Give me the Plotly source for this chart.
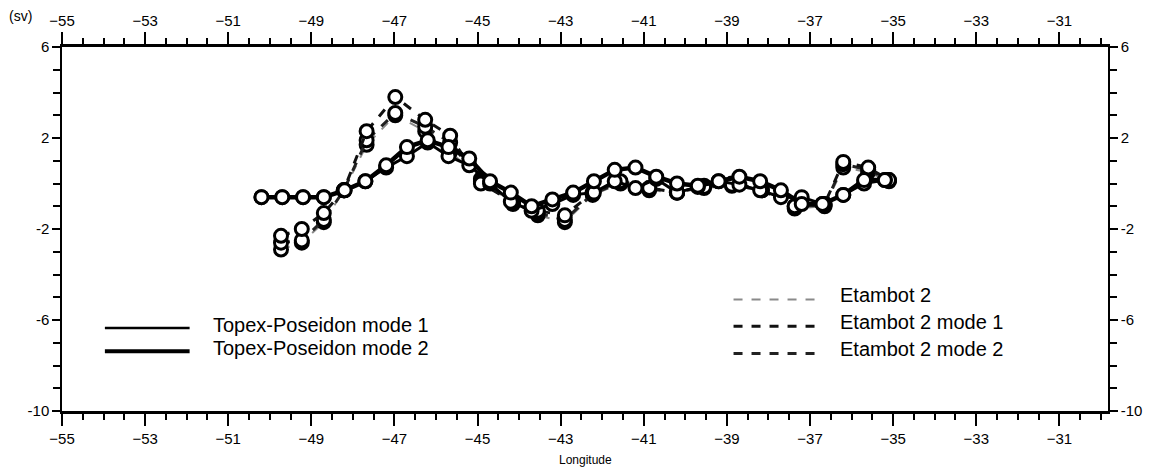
import plotly.graph_objects as go

# ---------------- data ----------------
topex_lon = [-50.2, -49.7, -49.2, -48.7, -48.2, -47.7, -47.2, -46.7, -46.2, -45.7,
             -45.2, -44.7, -44.2, -43.7, -43.2, -42.7, -42.2, -41.7, -41.2, -40.7,
             -40.2, -39.7, -39.2, -38.7, -38.2, -37.7, -37.2, -36.7, -36.2, -35.7, -35.2]
topex_mode1 = [-0.6, -0.6, -0.6, -0.6, -0.3, 0.1, 0.7, 1.2, 1.8, 1.2,
               0.8, 0.0, -0.8, -1.2, -0.9, -0.5, -0.4, 0.1, -0.2, 0.2,
               -0.4, -0.15, 0.1, -0.05, -0.3, -0.6, -0.6, -0.9, -0.5, 0.0, 0.15]
topex_mode2 = [-0.6, -0.6, -0.6, -0.6, -0.3, 0.1, 0.8, 1.6, 1.9, 1.6,
               1.1, 0.1, -0.4, -1.0, -0.7, -0.4, 0.1, 0.6, 0.7, 0.3,
               0.0, -0.1, 0.1, 0.3, 0.1, -0.3, -0.9, -0.9, -0.5, 0.15, 0.15]

etam_lon = [-49.73, -49.23, -48.70, -48.22, -47.67, -46.98, -46.26, -45.66, -44.92, -44.15,
            -43.55, -42.90, -42.23, -41.56, -40.87, -40.20, -39.55, -38.88, -38.16, -37.37,
            -36.65, -36.20, -35.60, -35.10]
etambot2 = [-2.9, -2.6, -1.7, -0.3, 1.7, 3.0, 2.3, 1.4, 0.2, -0.9,
            -1.4, -1.7, -0.5, 0.0, -0.3, -0.4, -0.2, -0.1, -0.3, -1.1,
            -1.0, 0.7, 0.5, 0.1]
etambot2_mode1 = [-2.3, -2.0, -1.3, -0.3, 2.3, 3.8, 2.8, 2.1, 0.0, -0.8,
                  -1.2, -1.4, -0.4, 0.1, -0.2, -0.4, -0.15, -0.05, -0.3, -1.0,
                  -0.9, 0.95, 0.7, 0.15]
etambot2_mode2 = [-2.6, -2.5, -1.6, -0.3, 1.9, 3.1, 2.5, 1.8, 0.1, -0.85,
                  -1.3, -1.6, -0.45, 0.05, -0.2, -0.4, -0.1, 0.0, -0.25, -1.0,
                  -0.95, 0.85, 0.6, 0.15]

x_ticks = [-55, -53, -51, -49, -47, -45, -43, -41, -39, -37, -35, -33, -31]
y_ticks = [6, 2, -2, -6, -10]
y_minor = [-9, -8, -7, -5, -4, -3, -1, 0, 1, 3, 4, 5]

# legend entries
legend_left = ["Topex-Poseidon mode 1", "Topex-Poseidon mode 2"]
legend_right = ["Etambot 2", "Etambot 2 mode 1", "Etambot 2 mode 2"]

FONT = "Liberation Sans, Arial, sans-serif"

fig = go.Figure()

def add_series(x, y, color, width, dash):
    fig.add_trace(go.Scatter(
        x=x, y=y, mode="lines+markers", showlegend=False,
        line=dict(color=color, width=width, dash=dash),
        marker=dict(symbol="circle", size=13, color="white",
                    line=dict(color="black", width=3)),
        xaxis="x", yaxis="y"))

add_series(etam_lon, etambot2, "#8a8a8a", 2, "dash")
add_series(etam_lon, etambot2_mode2, "#222222", 3, "dash")
add_series(etam_lon, etambot2_mode1, "#111111", 3, "dash")
add_series(topex_lon, topex_mode1, "black", 3, "solid")
add_series(topex_lon, topex_mode2, "black", 4.5, "solid")

# invisible trace to activate secondary axes
fig.add_trace(go.Scatter(x=[-55], y=[6], mode="markers", marker=dict(opacity=0),
                         showlegend=False, hoverinfo="skip", xaxis="x2", yaxis="y2"))

XR = [-55, -29.83]
YR = [-10, 6]

common_x = dict(range=XR, tickmode="linear", tick0=x_ticks[0],
                dtick=x_ticks[1] - x_ticks[0],
                ticks="outside", ticklen=12, tickwidth=2, tickcolor="black",
                minor=dict(dtick=0.5, tick0=-55, ticks="outside", ticklen=6,
                           tickwidth=1.5, tickcolor="black"),
                showline=True, linecolor="black", linewidth=3,
                showgrid=False, zeroline=False,
                tickfont=dict(family=FONT, size=15, color="black"))
common_y = dict(range=YR, tickmode="array", tickvals=y_ticks,
                ticktext=[str(v) for v in y_ticks],
                ticks="outside", ticklen=8, tickwidth=1.5, tickcolor="black",
                minor=dict(tickmode="array", tickvals=y_minor, ticks="outside",
                           ticklen=7, tickwidth=1.5, tickcolor="black"),
                showline=True, linecolor="black", linewidth=1.5,
                showgrid=False, zeroline=False,
                tickfont=dict(family=FONT, size=15, color="black"))

fig.update_layout(
    width=1154, height=470,
    margin=dict(l=62, r=41, t=47, b=59),
    paper_bgcolor="white", plot_bgcolor="white",
    xaxis=dict(**common_x, side="bottom", anchor="y"),
    xaxis2=dict(**common_x, side="top", anchor="y", overlaying="x"),
    yaxis=dict(**common_y, side="left", anchor="x"),
    yaxis2=dict(**common_y, side="right", anchor="x", overlaying="y"),
    showlegend=False,
    font=dict(family=FONT, color="black"),
)

# axis titles
fig.add_annotation(text="Longitude", xref="paper", yref="paper", x=0.5, y=-0.135,
                   showarrow=False, font=dict(family=FONT, size=12, color="black"),
                   xanchor="center", yanchor="middle")
fig.add_annotation(text="(sv)", xref="paper", yref="paper", x=-0.04, y=1.085,
                   showarrow=False, font=dict(family=FONT, size=14, color="black"),
                   xanchor="center", yanchor="middle")

# legend (drawn manually)
left_y = [0.236, 0.172]
left_w = [2.5, 4]
for name, yy, w in zip(legend_left, left_y, left_w):
    fig.add_shape(type="line", xref="paper", yref="paper", x0=0.041, x1=0.122,
                  y0=yy - 0.008, y1=yy - 0.008, line=dict(color="black", width=w))
    fig.add_annotation(text=name, xref="paper", yref="paper", x=0.1427, y=yy,
                       showarrow=False, xanchor="left", yanchor="middle",
                       font=dict(family=FONT, size=20, color="black"))

right_y = [0.318, 0.245, 0.17]
right_c = ["#8a8a8a", "#111111", "#222222"]
right_w = [2, 3, 3]
for name, yy, c, w in zip(legend_right, right_y, right_c, right_w):
    fig.add_shape(type="line", xref="paper", yref="paper", x0=0.642, x1=0.723,
                  y0=yy - 0.012, y1=yy - 0.012, line=dict(color=c, width=w, dash="dash"))
    fig.add_annotation(text=name, xref="paper", yref="paper", x=0.742, y=yy,
                       showarrow=False, xanchor="left", yanchor="middle",
                       font=dict(family=FONT, size=20, color="black"))

fig.write_html("out.html")
